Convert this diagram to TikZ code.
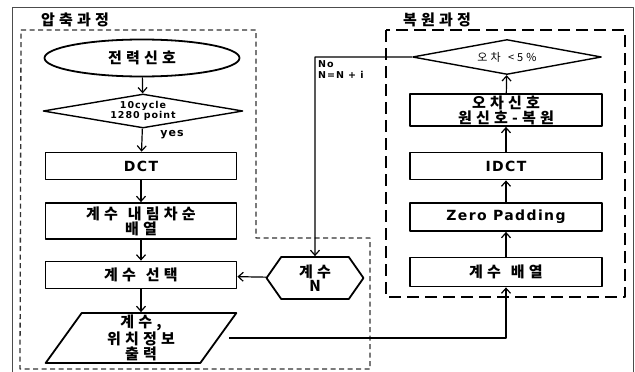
\documentclass[tikz,border=0pt]{standalone}
\usepackage{fontspec}
\setmainfont{DejaVu Sans}[LetterSpace=10]
\newfontfamily\kr{Noto Sans CJK KR}[LetterSpace=28, WordSpace=1.3]
\usetikzlibrary{shapes.geometric,shapes.symbols,arrows.meta}
\begin{document}
\begin{tikzpicture}[x=1pt, y=-1pt, font=\bfseries\fontsize{14}{16}\selectfont, line join=round,
  >={Straight Barb[length=5pt,width=9pt]},
  box/.style={draw, line width=1.8pt, minimum width=191pt, inner sep=1pt, align=center},
  krtext/.style={font=\kr\bfseries\fontsize{15}{14.5}\selectfont},
  flow/.style={->, line width=1.2pt}]
  \useasboundingbox (0,0) rectangle (635,372);
  % Bảng ngoài và hai vùng
  \draw[gray!60!black, line width=0.8pt] (12,7) rectangle (633,390);
  \draw[gray!40!black, line width=1.3pt, dash pattern=on 5pt off 3.5pt]
    (21,30) -- (256,30) -- (256,238) -- (370,238) -- (370,369) -- (20,369) -- cycle;
  \draw[line width=2.2pt, dash pattern=on 12pt off 6pt] (386,30) rectangle (625,297);
  \node[krtext] (ttl1) at (75,20) {압축과정};
  \node[krtext] (ttl2) at (437,20) {복원과정};

  % Cột nén
  \node[draw, ellipse, line width=1.8pt, minimum width=195pt, minimum height=37pt, krtext] (sig) at (142,58) {전력신호};
  \node[draw, diamond, aspect=6, line width=1.4pt, minimum width=200pt, minimum height=34pt, inner sep=0pt,
    align=center, font=\bfseries\fontsize{9.5}{10}\selectfont] (chk) at (143,111) {10cycle\\1280 point};
  \node[box, minimum height=27pt] (dct) at (141,166) {DCT};
  \node[box, minimum height=36pt, krtext, font=\kr\bfseries\fontsize{15}{14}\selectfont] (sort) at (141,221) {계수 내림차순\\배열};
  \node[box, minimum height=27pt, krtext] (sel) at (141,275) {계수 선택};
  \node[draw, trapezium, trapezium stretches=true, trapezium left angle=66, trapezium right angle=114,
    line width=1.8pt, minimum width=191pt, minimum height=50pt, inner sep=1pt, align=center, krtext] (out) at (141,338) {계수,\\위치정보\\출력};
  \node[draw, signal, signal to=west and east, signal pointer angle=110, line width=1.8pt,
    minimum width=97pt, minimum height=42pt, inner sep=1pt, align=center, krtext] (num) at (315,278) {계수\\N};

  % Cột phục hồi
  \node[draw, diamond, aspect=6, line width=1.4pt, minimum width=189pt, minimum height=35pt, inner sep=0pt,
    font=\kr\fontsize{11}{12}\selectfont] (err) at (507,57) {오차 <5\%};
  \node[box, minimum width=192pt, minimum height=32pt, krtext, font=\kr\bfseries\fontsize{15}{13.5}\selectfont] (diff) at (506,110) {오차신호\\원신호-복원};
  \node[box, minimum width=192pt, minimum height=27pt] (idct) at (506,166) {IDCT};
  \node[box, minimum width=192pt, minimum height=28pt] (zero) at (506,217) {Zero Padding};
  \node[box, minimum width=192pt, minimum height=29pt, krtext] (arr) at (506,272) {계수 배열};

  % Mũi tên
  \draw[flow] (sig) -- (chk);
  \draw[flow] (chk) -- (dct);
  \node[font=\bfseries\fontsize{11}{12}\selectfont] (yes) at (172,135) {yes};
  \draw[flow] (dct) -- (sort);
  \draw[flow] (sort) -- (sel);
  \draw[flow] (sel) -- (out);
  \draw[flow] (num) -- (sel);
  \coordinate (turn) at (315,57);
  \draw[flow] (err.west) -- (turn) -- (num);
  \node[anchor=north west, align=left, inner sep=0pt, font=\bfseries\fontsize{9.5}{11}\selectfont] (nolbl) at (318,60) {No\\N=N + i};
  \draw[flow, shorten <=10pt] (out.east) -- (out.east -| arr) -- (arr);
  \draw[flow] (arr) -- (zero);
  \draw[flow] (zero) -- (idct);
  \draw[flow] (idct) -- (diff);
  \draw[flow] (diff) -- (err);
\end{tikzpicture}
\end{document}
